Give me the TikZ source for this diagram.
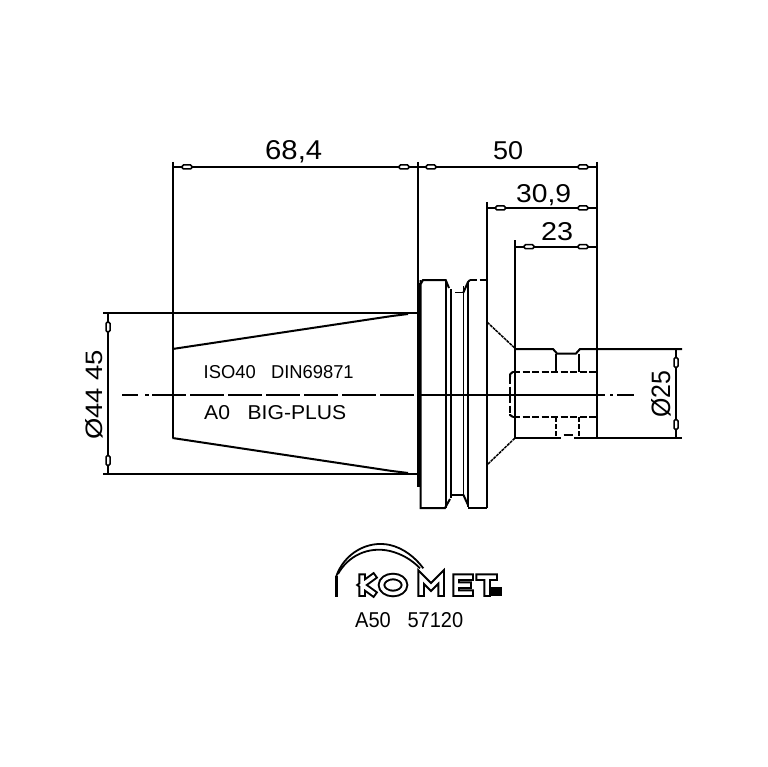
\documentclass[tikz,border=0pt]{standalone}
\usepackage{graphicx}
\usepackage{fontspec}
\setmainfont{Liberation Sans}
\tikzset{
  ln/.style={line width=2pt,black,line cap=butt},
  thin ln/.style={line width=1.5pt,black},
  dsh/.style={ln,dash pattern=on 7pt off 2.5pt},
  mark h/.style={draw=black,fill=white,line width=1.5pt,rounded corners=1.5pt},
  lbl/.style={inner sep=0pt,anchor=base west,black},
  lblr/.style={inner sep=0pt,anchor=base west,rotate=90,black},
}
% fitted label: x left, y baseline, width, height, text
\newcommand{\fitlbl}[6][lbl]{\node[#1] (#2) at (#3) {\resizebox{#4pt}{#5pt}{#6}};}
\newcommand{\hmark}[2]{\draw[mark h] (#1-5,#2-2) rectangle (#1+5,#2+2);}
\newcommand{\vmark}[2]{\draw[mark h] (#1-2,#2-5) rectangle (#1+2,#2+5);}
\def\komletters{
  (373,577) -- (362,585) -- (373,593)
  (362,577) -- (362,593)
  (393,585) ellipse (11.5 and 8.5)
  (421,593) -- (421,577) -- (431,587) -- (441,577) -- (441,593)
  (470,577) -- (456,577) -- (456,593) -- (470,593)
  (456,585) -- (468,585)
  (479,577) -- (494,577)
  (487,577) -- (487,593)
}
\begin{document}
\begin{tikzpicture}[x=1pt,y=-1pt]
\useasboundingbox (0,0) rectangle (767,767);
\fill[white] (0,0) rectangle (767,767);

% extension lines
\draw[ln] (172.5,162) -- (172.5,438);
\draw[ln] (418,162) -- (418,487);
\draw[ln] (597,162) -- (597,438);
\draw[ln] (487.3,202) -- (487.3,508);
\draw[ln] (515,240) -- (515,438);
\draw[ln] (103,313) -- (417,313);
\draw[ln] (103,474) -- (417,474);
\draw[ln] (515,349) -- (553,349) -- (557,353.5) -- (576,353.5) -- (580,349) -- (682,349);
\draw[ln] (515,438) -- (561,438);
\draw[ln] (563.5,435) -- (572.5,435);
\draw[ln] (574,438) -- (682,438);

% dimension lines
\draw[ln] (172.5,167) -- (597,167);
\draw[ln] (487.3,208) -- (597,208);
\draw[ln] (515,246.7) -- (597,246.7);
\draw[ln] (108,313) -- (108,474);
\draw[ln] (676,349) -- (676,438);
\hmark{187}{167}\hmark{404}{167}\hmark{431}{167}\hmark{583}{167}
\hmark{500.5}{208}\hmark{583}{208}
\hmark{529}{246.7}\hmark{583}{246.7}
\vmark{108}{327}\vmark{108}{460.5}
\vmark{676}{362.5}\vmark{676}{424.5}

% taper
\draw[ln] (172.5,349) -- (392,316) -- (408,314);
\draw[ln] (172.5,438) -- (392,471) -- (408,473);
\draw[line width=3.2pt,black] (418.5,283) -- (418.5,487);

% flange
\draw[ln] (420.7,284) -- (423,280) -- (445.7,280) -- (449,288);
\draw[ln] (420.7,280) -- (420.7,508) -- (445,508) -- (450,499);
\draw[ln] (445.7,280) -- (445.7,508);
\draw[ln] (451,289) -- (451,498);
\draw[thin ln] (455,292.7) -- (463,292.7);
\draw[ln] (451,494.7) -- (463.3,494.7);
\draw[thin ln] (463.3,286) -- (463.3,495);
\draw[ln] (463.3,292.7) -- (468,282) -- (470,280);
\draw[ln] (463.3,494.7) -- (468,505);
\draw[ln] (468,282) -- (468,507);
\draw[dsh] (470,280) -- (487.3,280);
\draw[ln] (468,507.5) -- (487.3,507.5);

% cone
\draw[thin ln,dash pattern=on 3pt off 0.8pt] (487.3,322.3) -- (515,348.3);
\draw[thin ln,dash pattern=on 3pt off 0.8pt] (488,464) -- (515,438);

% bore and undercut
\draw[dsh] (513,371.7) -- (597,371.7);
\draw[dsh] (513,417) -- (597,417);
\draw[dsh] (510,377) -- (510,415);
\draw[ln] (510,377) -- (510,374.5) -- (513,371.7);
\draw[ln] (510,414) -- (510,415) -- (513,417);
\draw[ln] (556,353.5) -- (556,371.7);
\draw[ln] (579.3,353.5) -- (579.3,371.7);
\draw[ln,dash pattern=on 5pt off 2pt] (556,417) -- (556,438);
\draw[ln,dash pattern=on 5pt off 2pt] (579.3,417) -- (579.3,438);

% centre line
\draw[ln] (122,394.7) -- (138,394.7);
\draw[ln] (145,394.7) -- (149,394.7);
\draw[ln,dash pattern=on 34pt off 4pt] (152,394.7) -- (418,394.7);
\draw[ln] (418,394.7) -- (605,394.7);
\draw[ln] (610,394.7) -- (613,394.7);
\draw[ln] (617,394.7) -- (633.5,394.7);

% labels
\fitlbl{d684}{265,160}{57}{19}{68,4}
\fitlbl{d50}{493,160}{30}{18}{50}
\fitlbl{d309}{516,202}{55}{18}{30,9}
\fitlbl{d23}{541,240}{32}{18}{23}
\fitlbl[lblr]{d44}{102,440}{90}{17}{Ø44 45}
\fitlbl[lblr]{d25}{670,418}{47}{19}{Ø25}
\fitlbl{iso}{203.5,378}{150}{13}{ISO40\ \ \ DIN69871}
\fitlbl{big}{204,419}{142}{14}{A0\ \ \ BIG-PLUS}
\fitlbl{code}{355,627}{108}{15}{A50\ \ \ 57120}

% KOMET logo
\draw[black,line width=1.8pt] (336,577) .. controls (344,553) and (368,540) .. (390,545) .. controls (403,548) and (415,557) .. (423.3,568.3);
\draw[black,line width=1.8pt] (338,574) .. controls (348,556) and (368,546) .. (390,551) .. controls (402,554) and (412,560) .. (420,568.3);
\draw[black,line width=3pt] (336,576) -- (336,597);
\draw[black,line width=7.5pt,line cap=rect] \komletters;
\draw[white,line width=3.5pt,line cap=rect] \komletters;
\fill[black] (490,587) rectangle (502,596);
\end{tikzpicture}
\end{document}
